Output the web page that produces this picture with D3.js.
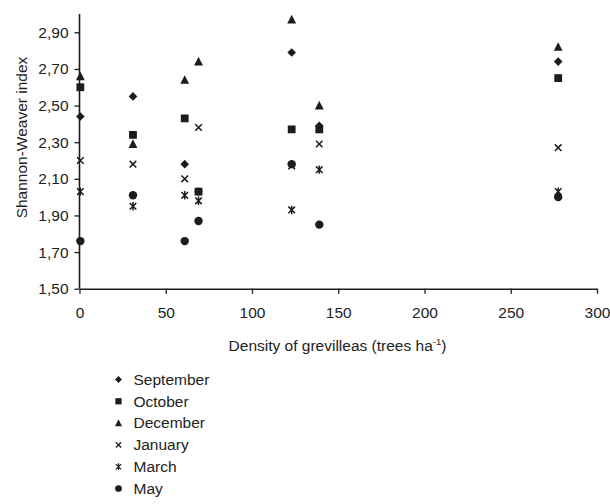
<!DOCTYPE html>
<html>
<head>
<meta charset="utf-8">
<script src="https://cdn.jsdelivr.net/npm/d3@7"></script>
<style>
  html, body { margin: 0; padding: 0; background: #fff; }
  svg text { font-family: "Liberation Sans", Arial, sans-serif; fill: #222; }
</style>
</head>
<body>
<svg id="chart" width="610" height="504"></svg>
<script>
// ── Data: Shannon-Weaver index vs grevillea density, by month ───────────────
const density = [0.5, 31, 61, 69, 123, 139, 277.5];
const months = ["September", "October", "December", "January", "March", "May"];
const september = [2.44, 2.55, 2.18, 2.03, 2.79, 2.39, 2.74];
const october   = [2.60, 2.34, 2.43, 2.03, 2.37, 2.37, 2.65];
const december  = [2.66, 2.29, 2.64, 2.74, 2.97, 2.50, 2.82];
const january   = [2.20, 2.18, 2.10, 2.38, 2.17, 2.29, 2.27];
const march     = [2.03, 1.95, 2.01, 1.98, 1.93, 2.15, 2.03];
const may       = [1.76, 2.01, 1.76, 1.87, 2.18, 1.85, 2.00];
const seriesValues = [september, october, december, january, march, may];
const xTicks = [0, 50, 100, 150, 200, 250, 300];
const yTicks = [1.5, 1.7, 1.9, 2.1, 2.3, 2.5, 2.7, 2.9];

const INK = "#1c1c1c";
const FS = "15.5px";
const M = { top: 14, left: 79.5 };

const svg = d3.select("#chart");
const g = svg.append("g").attr("transform", `translate(${M.left},${M.top})`);

const x = d3.scaleLinear().domain([0, 300]).range([0, 517.5]);
const y = d3.scaleLinear().domain([1.5, 3.0]).range([274.7, 0]);

const fmt = v => d3.format(".2f")(v).replace(".", ",");

// Axes
const xAx = g.append("g").attr("transform", `translate(0,${y(1.5)})`)
  .call(d3.axisBottom(x).tickValues(xTicks).tickSizeInner(5).tickSizeOuter(0).tickPadding(13));
const yAx = g.append("g")
  .call(d3.axisLeft(y).tickValues(yTicks).tickFormat(fmt).tickSizeInner(5).tickSizeOuter(0).tickPadding(6));
[xAx, yAx].forEach(ax => {
  ax.select(".domain").attr("stroke", INK).attr("stroke-width", 1.6);
  ax.selectAll(".tick line").attr("stroke", INK).attr("stroke-width", 1.3);
  ax.selectAll(".tick text").attr("font-size", FS).attr("fill", "#222")
    .attr("font-family", "Liberation Sans, Arial, sans-serif");
});
// y axis line runs up to the top of the domain
yAx.select(".domain").attr("d", `M0,${y(1.5)}V${y(3.0)}`);

// Axis titles
svg.append("text")
  .attr("transform", "translate(26.5,137.5) rotate(-90)")
  .attr("text-anchor", "middle").attr("font-size", FS)
  .text("Shannon-Weaver index");

const xt = svg.append("text")
  .attr("x", 337.5).attr("y", 351)
  .attr("text-anchor", "middle").attr("font-size", FS);
xt.append("tspan").text("Density of grevilleas (trees ha");
xt.append("tspan").attr("font-size", "9.5px").attr("dy", -6).text("-1");
xt.append("tspan").attr("dy", 6).text(")");

// Marker shapes
function drawMarker(sel, kind) {
  if (kind === 0) {
    sel.append("path").attr("d", "M0,-4.3L4.3,0L0,4.3L-4.3,0Z").attr("fill", INK);
  } else if (kind === 1) {
    sel.append("rect").attr("x", -3.9).attr("y", -3.9).attr("width", 7.8).attr("height", 7.8).attr("fill", INK);
  } else if (kind === 2) {
    sel.append("path").attr("d", "M0,-4.8L4.4,3.9L-4.4,3.9Z").attr("fill", INK);
  } else if (kind === 3) {
    sel.append("path").attr("d", "M-3.3,-3.3L3.3,3.3M-3.3,3.3L3.3,-3.3")
      .attr("stroke", INK).attr("stroke-width", 1.5).attr("fill", "none");
  } else if (kind === 4) {
    sel.append("path").attr("d", "M-3.3,-3.3L3.3,3.3M-3.3,3.3L3.3,-3.3M0,-4.2V4.2")
      .attr("stroke", INK).attr("stroke-width", 1.5).attr("fill", "none");
  } else {
    sel.append("circle").attr("r", 4.2).attr("fill", INK);
  }
}

// Points
seriesValues.forEach((vals, si) => {
  g.append("g").selectAll("g.pt")
    .data(vals.map((v, i) => ({ x: density[i], v })))
    .join("g")
    .attr("class", "pt")
    .attr("transform", d => `translate(${x(d.x)},${y(d.v)})`)
    .each(function() { drawMarker(d3.select(this), si); });
});

// Legend
const lg = svg.append("g").attr("transform", "translate(118.5,379.5)");
months.forEach((m, i) => {
  const row = lg.append("g").attr("transform", `translate(0,${i * 21.8})`);
  const mk = row.append("g").attr("transform", "scale(0.8)");
  drawMarker(mk, i);
  row.append("text").attr("x", 15).attr("y", 5.3).attr("font-size", FS).text(m);
});
</script>
</body>
</html>
